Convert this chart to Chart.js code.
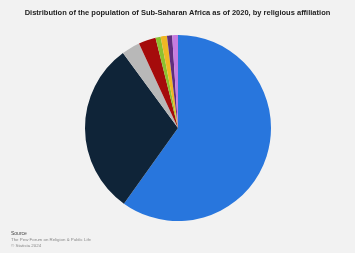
<!DOCTYPE html>
<html>
<head>
<meta charset="utf-8">
<script src="https://cdn.jsdelivr.net/npm/chart.js@4/dist/chart.umd.min.js"></script>
<style>
  html, body { margin: 0; padding: 0; background: #f2f2f2; }
  #wrap { position: relative; width: 355px; height: 253px; }
  #title { position: absolute; left: 0; top: 8px; width: 355px; text-align: center;
    font: bold 7.5px "Liberation Sans", Arial, sans-serif; color: #222; }
  #source { position: absolute; left: 11px; top: 230px; font: 4.4px "Liberation Sans", Arial, sans-serif;
    color: #888; line-height: 6px; }
  #source b { color: #444; font-weight: normal; font-size: 5px; }
</style>
</head>
<body>
<div id="wrap">
  <canvas id="pieChart" width="355" height="253"></canvas>
  <div id="title">Distribution of the population of Sub-Saharan Africa as of 2020, by religious affiliation</div>
  <div id="source"><b>Source</b><br>The Pew Forum on Religion &amp; Public Life<br>© Statista 2024</div>
</div>
<script>
// values (percent)
var religions = ["Christians", "Muslims", "Unaffiliated", "Folk religions", "Other religions", "Hindus", "Buddhists", "Jews"];
var shares = [60.0, 30.1, 3.2, 3.0, 0.9, 1.1, 0.9, 1.0];
var colors = ["#2876dd", "#0f2438", "#b8b8b8", "#a50b0b", "#8cc12f", "#efb724", "#5f2e7e", "#c67be0"];

var ctx = document.getElementById("pieChart").getContext('2d');
var myPieChart = new Chart(ctx, {
    type: 'pie',
    data: {
        labels: religions,
        datasets: [
            {
                data: shares,
                backgroundColor: colors,
                borderWidth: 0
            }
        ]
    },
    options: {
        responsive: false,
        animation: false,
        layout: { padding: { top: 35, bottom: 32, left: 1, right: 0 } },
        plugins: {
            legend: { display: false },
            tooltip: { enabled: false }
        }
    }
});
</script>
</body>
</html>
